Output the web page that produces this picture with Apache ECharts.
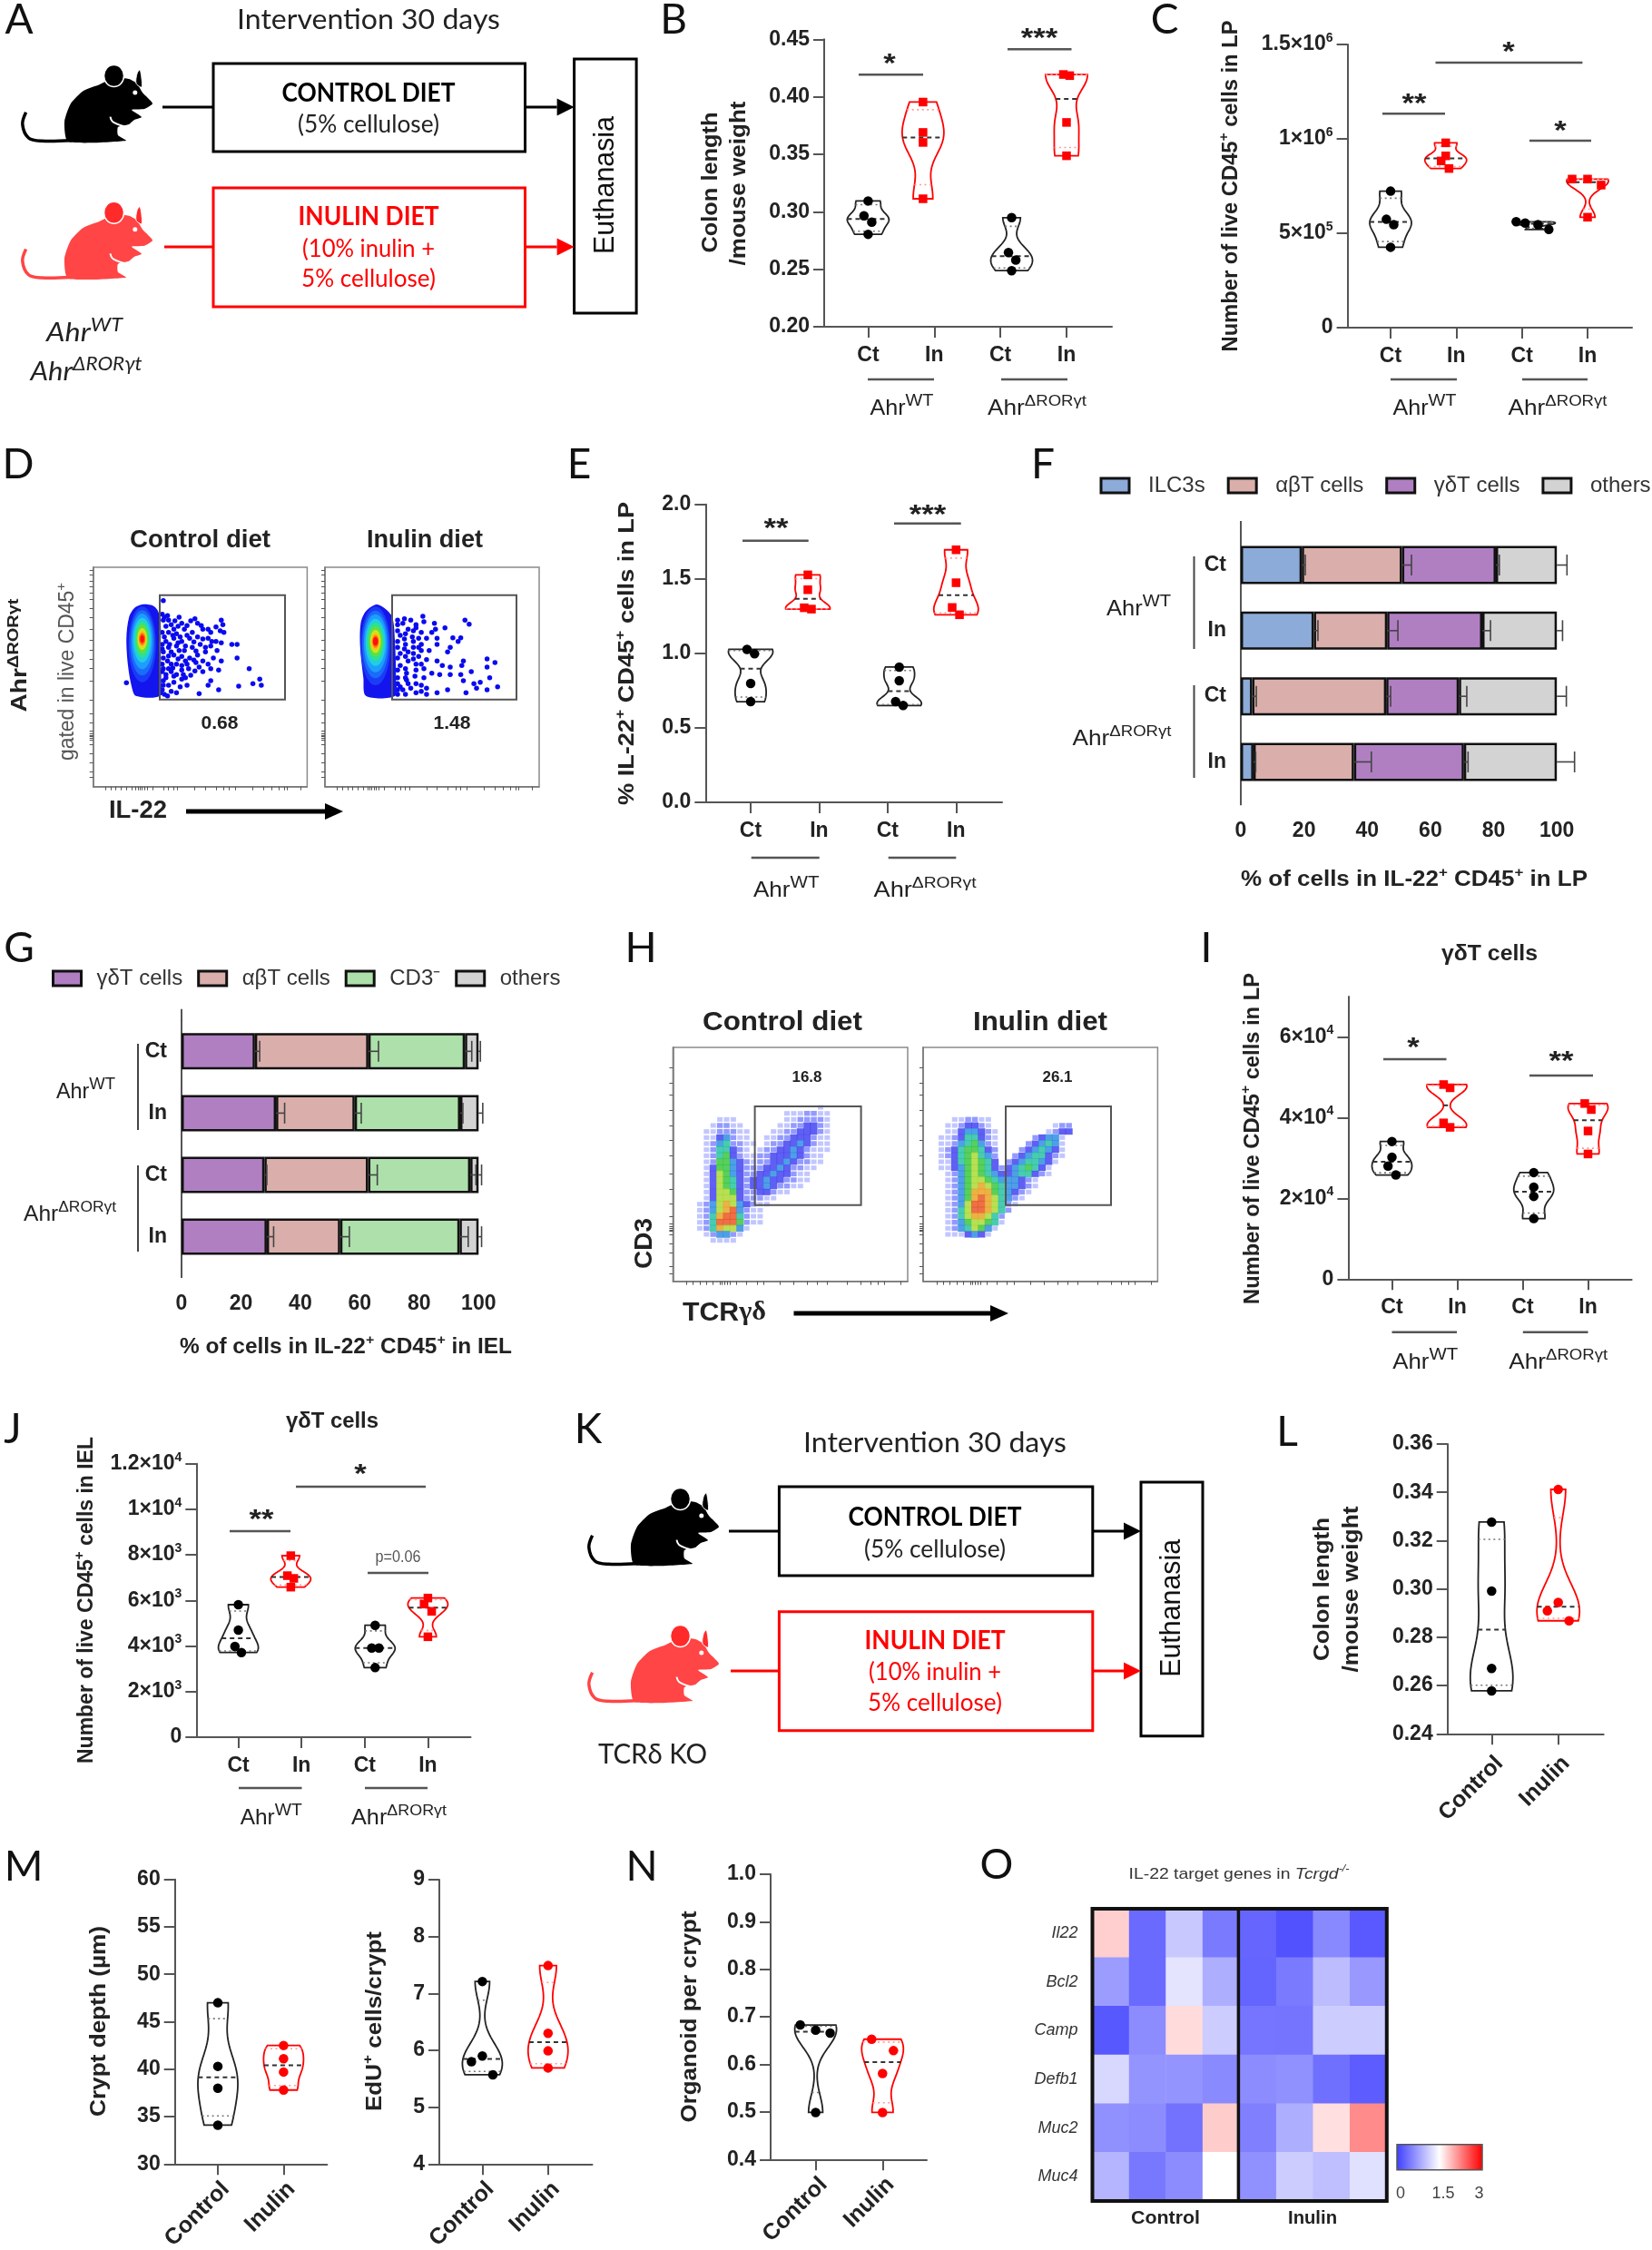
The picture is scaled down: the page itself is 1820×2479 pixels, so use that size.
<!DOCTYPE html>
<html><head><meta charset="utf-8">
<style>html,body{margin:0;padding:0;background:#fff}#c{width:1820px;height:2479px}</style>
<script src="https://cdn.jsdelivr.net/npm/echarts@6/dist/echarts.min.js"></script>
</head><body><div id="c"></div>
<script>
/* ---------- values ---------- */
const xNames4=['Ct','In','Ct','In'], xNames2=['Control','Inulin'];
// B colon length / mouse weight
const bValues=[[.3094,.2965,.291,.2804],[.3954,.369,.3603,.3113],[.2949,.2646,.258,.2488],[.4194,.4184,.3777,.3487]];
const bJitter=[[0,-.063,.055,0],[0,0,0,0],[0,-.048,.063,0],[-.048,.048,0,0]];
const bCenters=[1,1.83,3.17,4];
const bTicks=[.2,.25,.3,.35,.4,.45];
// C live CD45+ LP
const cValues=[[7.23e5,5.74e5,5.46e5,4.26e5],[9.79e5,9.1e5,8.83e5,8.43e5],[5.61e5,5.54e5,5.46e5,5.2e5],[7.87e5,7.87e5,7.55e5,5.85e5]];
const cJitter=[[0,-.064,.048,0],[0,0,-.07,.05],[-.277,-.14,.055,.22],[-.235,0,.207,0]];
const cCenters=[1,1.84,3.19,4];
const cTicks=[0,5e5,1e6,1.5e6];
// E % IL-22+
const eValues=[[1.027,.997,.798,.676],[1.527,1.427,1.306,1.297],[.908,.816,.676,.65],[1.695,1.474,1.308,1.259]];
const eJitter=[[-.053,.057,0,0],[0,0,-.053,.053],[0,0,-.053,.057],[0,0,-.057,.05]];
const eCenters=[1,1.835,3.17,4];
const eTicks=[0,.5,1,1.5,2];
// I gd T LP
const iValues=[[3.41e4,3.02e4,2.8e4,2.58e4],[4.82e4,4.74e4,3.87e4,3.76e4],[2.64e4,2.28e4,2.05e4,1.5e4],[4.35e4,4.2e4,3.67e4,3.1e4]];
const iJitter=[[0,0,-.06,.06],[-.05,.05,-.05,.05],[0,0,0,0],[-.05,.05,0,0]];
const iCenters=[1,1.84,3.17,4];
const iTicks=[0,2e4,4e4,6e4];
// J gd T IEL
const jValues=[[5814,4699,3982,3717],[7965,7088,6969,6584],[4912,3916,3916,3053],[6106,5841,5522,4407]];
const jJitter=[[0,0,-.054,.048],[0,-.054,.048,0],[0,-.054,.06,0],[0,-.06,.06,0]];
const jCenters=[1,1.83,3.165,4];
const jTicks=[0,2e3,4e3,6e3,8e3,1e4,1.2e4];
// L, M, N
const lValues=[[.3277,.2991,.2671,.2578],[.3412,.2944,.2909,.2868]];
const lJitter=[[0,0,0,0],[0,0,-.163,.163]];
const lTicks=[.24,.26,.28,.3,.32,.34,.36];
const m1Values=[[47,40.3,38,34.1],[42.5,41.1,39.7,37.8]];
const m1Jitter=[[0,0,0,0],[0,0,0,0]];
const m1Ticks=[30,35,40,45,50,55,60];
const m2Values=[[7.21,5.9,5.8,5.57],[7.49,6.3,5.99,5.69]];
const m2Jitter=[[0,0,-.166,.16],[0,0,0,0]];
const m2Ticks=[4,5,6,7,8,9];
const nValues=[[.683,.672,.666,.499],[.653,.629,.581,.499]];
const nJitter=[[-.23,0,.217,0],[-.163,.163,0,0]];
const nTicks=[.4,.5,.6,.7,.8,.9,1];
// F stacked bars (LP)
const fRows=['Ct','In','Ct','In'];
const fIlc3=[19.3,23.1,3.6,4], fAb=[31.7,23.2,42.4,31.8], fGd=[29.7,30.1,23,34.8], fOth=[19.3,23.6,31,29.4];
const fErrIlc3=[1.1,1.3,1.3,.7], fErrAb=[3,3.4,1.4,5.5], fErrGd=[1.1,2.6,2.5,1.3], fErrOth=[3.2,1.8,3,5.6];
// G stacked bars (IEL)
const gGd=[24.7,31.8,27.9,28.7], gAb=[38.2,26.5,34.9,24.7], gCd3=[32.5,35.5,34.4,40.2], gOth=[4.6,6.2,2.8,6.4];
const gErrGd=[1.6,2.9,.8,2.3], gErrAb=[3.4,2.2,3.1,3.1], gErrCd3=[2.3,.9,1.9,2.9], gErrOth=[.6,1.4,1,1];
const barTicks=[0,20,40,60,80,100];
// O heat map
const genes=['Il22','Bcl2','Camp','Defb1','Muc2','Muc4'];
const samples=['C1','C2','C3','C4','I1','I2','I3','I4'];
const hIl22=[1.78,.33,1.07,.455,.3,.14,.565,.2];
const hBcl2=[.72,.33,1.29,.86,.28,.455,.97,.69];
const hCamp=[.19,.6,1.71,1.1,.42,.41,1.1,1.1];
const hDefb1=[1.19,.66,.66,.58,.6,.63,.38,.22];
const hMuc2=[.63,.6,.39,1.8,.5,.86,1.69,2.18];
const hMuc4=[.91,.44,.6,1.5,.63,1.1,1,1.26];
// D flow cytometry: events outside the dense population, and its density contours (read by eye)
const d1Events=[[310,545],[312,600],[320,610],[325,625],[340,600],[345,620],[370,605],[375,620],[420,610],[423,625],[350,640],[365,650],[385,640],[400,650],[418,645],[425,650],[335,655],[320,650],[315,680],[330,670],[345,680],[360,670],[375,665],[395,670],[410,680],[420,685],[440,690],[450,690],[320,700],[335,695],[350,710],[365,700],[380,690],[400,695],[412,710],[330,725],[345,730],[360,735],[375,725],[390,715],[405,735],[420,745],[450,735],[318,745],[335,755],[355,755],[372,750],[310,770],[325,780],[345,775],[370,778],[385,780],[400,770],[415,775],[473,770],[315,800],[330,795],[352,800],[400,810],[395,825],[342,830],[320,825],[305,850],[378,853],[415,840],[453,828],[480,820],[493,805],[496,825],[240,817],[312,855],[345,805],[310,610],[315,630],[308,650],[312,665],[322,690],[310,715],[325,715],[310,735],[325,755],[315,790],[310,810],[330,640],[340,710],
[308,590],[318,595],[332,612],[338,630],[355,628],[362,612],[382,628],[395,640],[410,632],[328,660],[342,665],[355,660],[368,682],[385,672],[402,680],[308,690],[338,685],[352,695],[372,712],[390,700],[308,705],[320,728],[338,738],[352,745],[368,742],[385,745],[395,755],[308,755],[328,768],[345,760],[358,770],[378,765],[308,780],[320,770],[335,790],[348,790],[362,792],[310,825],[330,815],[308,840],[325,845],[318,860],[335,850],[355,825]];
const d2Events=[[803,597],[805,615],[825,620],[827,640],[845,635],[883,610],[891,623],[790,625],[775,640],[800,650],[820,650],[783,665],[810,670],[830,670],[860,668],[875,668],[870,680],[855,700],[850,715],[830,690],[800,690],[785,700],[815,710],[795,730],[775,745],[810,740],[830,745],[840,760],[855,765],[880,745],[877,760],[925,738],[940,750],[925,765],[790,775],[820,785],[835,790],[855,790],[875,790],[895,780],[880,810],[900,820],[930,800],[912,815],[945,830],[925,840],[905,835],[885,850],[850,840],[830,850],[810,835],[790,820],[770,800],[765,840],[755,855],[790,850],[810,855],[770,770],[760,720],[770,690],[760,660],[755,610],[765,620],[785,645],[795,670],[775,715],[790,755],[760,760],[805,770],[775,820],[755,800],[760,830],[780,835],
[755,625],[768,605],[780,610],[790,635],[755,645],[770,655],[785,680],[755,680],[768,672],[795,700],[755,700],[768,705],[785,720],[800,710],[755,735],[770,730],[785,738],[800,755],[755,775],[772,785],[788,795],[805,800],[755,820],[772,808],[800,825],[770,855],[800,845],[755,840]];
const d1Outline=[[270,558],[290,562],[300,580],[305,620],[305,700],[306,800],[303,860],[258,860],[250,830],[243,760],[240,670],[245,600],[255,570]];
const d2Outline=[[715,558],[730,570],[745,600],[750,680],[752,800],[750,860],[695,860],[690,800],[684,700],[685,620],[695,580]];
const d1Contours=[[270,690,26,125],[270,685,23,108],[270,680,20,92],[270,676,17,74],[270,674,14,60],[270,672,11,48],[270,672,9,36],[270,672,7,27],[270,672,6,20],[270,672,4,13]];
const d2Contours=[[713,695,28,130],[713,690,25,112],[713,686,22,96],[713,683,19,78],[713,681,16,63],[713,680,13,50],[713,680,10,38],[713,680,8,29],[713,680,6,21],[713,680,5,14]];
const contourColors=['#1a3cf5','#1a6cfa','#1e9dff','#20cfe0','#2fe090','#60e040','#c8e820','#ffc010','#ff7010','#ff1010'];
// H flow cytometry: density level per cell, read by eye (. = none, 1 sparse .. 9 densest)
const h1Density=[
"..................1.",".............1112211","...111.......1122221","..12211.....11223321",".1122211...112233321",".1134211..1122333211",
".12452211.1223343211",".1255321.12233432111",".125632112233343211.",".126643212233432211.",".13664322233432211..",".1376432233433211...",
".1376532334332211...",".1376532334322 1....".replace(' ','1'),".137763223321 ......".replace(' ','1'),".1377732221 ........".replace(' ','1'),"12478743211.........","1247894211..........",
"12589952 1..........".replace(' ','1'),"12599962 1..........".replace(' ','1'),"12587741............",".124421.............","..1111.............."];
const h2Density=[
"....................","....................","..112211............",".1123321.........122.",".11344321.......1233.","112355321.....23441.",
"112456421....234541.","123566532...2345431.","123567542..23455321.","113567653.23455431..","11346765323456531...",".1246765433455321...",
".12467765444321.....",".12467876544321.....",".1246888654321......",".124689875421.......",".12479987521........",".1257998752.........",
".125788752..........",".124677651..........",".12457641...........",".1113431............"];
const densityColors=[null,'#b4baff','#7a84ff','#3c3cf0','#2a8ae0','#22c0a0','#35c43a','#a8d830','#e8a020','#e85020'];
/* ---------- helpers ---------- */
const ARIAL="'Liberation Sans'", LATO="Lato";
const AX='#555', RED='#ff0000';
const mctx=document.createElement('canvas').getContext('2d');
const G=[], grids=[], xAxes=[], yAxes=[], series=[];
function fontOf(p){return `${p.style||'normal'} ${p.weight||'normal'} ${p.size}px ${p.font}`;}
function T(o){
  const parts=o.parts||[{t:o.t}];
  const base={size:o.size||22,weight:o.weight,style:o.style,font:o.font||ARIAL,color:o.color||'#222'};
  const ps=parts.map(p=>Object.assign({},base,p));
  let W=0; ps.forEach(p=>{mctx.font=fontOf(p);p.w=mctx.measureText(p.t).width;W+=p.w;});
  const s=o.w?o.w/W:1; let cx=-W/2; const kids=[];
  ps.forEach(p=>{kids.push({type:'text',z:60,style:{text:p.t,x:cx,y:p.dy||0,font:fontOf(p),fill:p.color,textAlign:'left',align:'left',textVerticalAlign:'middle',verticalAlign:'middle'}});cx+=p.w;});
  G.push({type:'group',x:o.x,y:o.y,rotation:o.rot||0,scaleX:s,z:60,children:kids});
}
const V=Math.PI/2;
function line(x1,y1,x2,y2,c,lw){G.push({type:'line',z:55,shape:{x1,y1,x2,y2},style:{stroke:c||AX,lineWidth:lw||2.5}});}
function rect(x,y,w,h,c,lw){G.push({type:'rect',z:55,shape:{x,y,width:w,height:h},style:{fill:'none',stroke:c,lineWidth:lw}});}
function arrow(x1,x2,y,c,lw,hl,hh){line(x1,y,x2-hl,y,c,lw);G.push({type:'polygon',z:55,shape:{points:[[x2-hl,y-hh],[x2,y],[x2-hl,y+hh]]},style:{fill:c}});}
function star(n,x,y){T({t:'*'.repeat(n),x,y:y+6,size:30,weight:'bold',w:n*13.5,color:'#222'});}
function sig(x1,x2,y,n,sx,sy){line(x1,y,x2,y);if(n)star(n,sx,sy);}
function letter(t,x,y){T({t,x,y,size:46,font:LATO,color:'#111'});}
function ahrWT(x,y,w){T({parts:[{t:'Ahr'},{t:'WT',size:19,dy:-8}],x,y:y+3,size:24,w:w||70,color:'#222'});}
function ahrD(x,y,w){T({parts:[{t:'Ahr'},{t:'ΔRORγt',size:17,dy:-8}],x,y:y+3,size:24,w:w||109,color:'#222'});}
const yLabel=(t,x,y,w)=>T({parts:t,x,y,w,rot:V,size:23,weight:'bold',color:'#222'});
const CD45=[{t:'Number of live CD45'},{t:'+',size:15,dy:-8}];
function sciFmt(v){if(v===0)return'{a|0}';const e=Math.floor(Math.log10(v)+1e-9);const m=+(v/Math.pow(10,e)).toFixed(2);return `{a|${m}×10}{s|${e}}`;}
const sciRich={a:{fontFamily:ARIAL,fontWeight:'bold',fontSize:23,color:'#222'},s:{fontFamily:ARIAL,fontWeight:'bold',fontSize:14,color:'#222',padding:[0,0,14,0]}};
function kdeShape(vals){
  const lo=Math.min(...vals),hi=Math.max(...vals),h=.2*(hi-lo);
  const d=y=>vals.reduce((s,v)=>s+Math.exp(-.5*Math.pow((y-v)/h,2)),0);
  const ys=[];for(let i=0;i<=40;i++)ys.push(lo+(hi-lo)*i/40);
  const max=Math.max(...ys.map(d));
  return {ys,wd:y=>d(y)/max};
}
function quart(vals){const s=[...vals].sort((a,b)=>a-b);return[s[0]+.25*(s[1]-s[0]),(s[1]+s[2])/2,s[2]+.75*(s[3]-s[2])];}
function violinPanel(c){
  const n=c.names.length,i=grids.length,u=(c.xt[n-1]-c.xt[0])/(n-1);
  grids.push({left:c.L,top:c.T,width:c.R-c.L,height:c.B-c.T});
  const xv=c.names.map((_,k)=>k+1);
  const lab={customValues:xv,formatter:v=>c.names[Math.round(v)-1],fontFamily:ARIAL,fontWeight:'bold',fontSize:c.xSize||23,color:'#222',margin:c.xMargin||20,rotate:c.xRot||0,hideOverlap:false};
  if(c.xRot)lab.verticalAlign='top';
  xAxes.push({gridIndex:i,type:'value',min:1-(c.xt[0]-c.L)/u,max:n+(c.R-c.xt[n-1])/u,splitLine:{show:false},
    axisLine:{onZero:false,lineStyle:{color:AX,width:2}},axisTick:{customValues:xv,length:12,lineStyle:{color:AX,width:2}},
    axisLabel:lab});
  yAxes.push({gridIndex:i,type:'value',min:c.yMin,max:c.yMax,splitLine:{show:false},
    axisLine:{onZero:false,lineStyle:{color:AX,width:2}},axisTick:{customValues:c.yTicks,length:12,lineStyle:{color:AX,width:2}},
    axisLabel:{customValues:c.yTicks,formatter:c.yFmt,fontFamily:ARIAL,fontWeight:'bold',fontSize:23,color:'#222',margin:16,rich:sciRich}});
  const Hw=c.hw||23,centers=c.centers||xv;
  series.push({type:'custom',xAxisIndex:i,yAxisIndex:i,silent:true,clip:false,z:3,
    data:centers.map((x,j)=>[x,quart(c.values[j])[1]]),encode:{x:0,y:1},
    renderItem(p,api){
      const j=p.dataIndex,vals=c.values[j],col=j%2?RED:'#222',k=kdeShape(vals),x=centers[j];
      const cx=api.coord([x,vals[0]])[0];
      const L=[],Rr=[];k.ys.forEach(y=>{const py=api.coord([x,y])[1],w=k.wd(y)*Hw;L.push([cx-w,py]);Rr.unshift([cx+w,py]);});
      const kids=[{type:'polygon',shape:{points:L.concat(Rr)},style:{fill:'none',stroke:col,lineWidth:1.8}}];
      const [q1,m,q3]=quart(vals);
      [q1,q3].forEach(q=>{const py=api.coord([x,q])[1],w=k.wd(q)*Hw;kids.push({type:'line',shape:{x1:cx-w,y1:py,x2:cx+w,y2:py},style:{stroke:j%2?'#ff9a9a':'#777',lineWidth:1.6,lineDash:[2,3.5]}});});
      const py=api.coord([x,m])[1],w=k.wd(m)*Hw;
      kids.push({type:'line',shape:{x1:cx-w,y1:py,x2:cx+w,y2:py},style:{stroke:'#333',lineWidth:2,lineDash:[5,4]}});
      return {type:'group',children:kids};
    }});
  [0,1].forEach(odd=>{
    const d=[];c.values.forEach((vs,j)=>{if(j%2===odd)vs.forEach((v,q)=>d.push([centers[j]+c.jitter[j][q],v]));});
    series.push({type:'scatter',xAxisIndex:i,yAxisIndex:i,silent:true,z:4,clip:false,data:d,symbol:odd&&c.square?'rect':'circle',symbolSize:odd&&c.square?9.5:10.5,itemStyle:{color:odd?RED:'#000',opacity:1}});
  });
}
const f2=v=>v.toFixed(2), f1=v=>v.toFixed(1), f0=v=>String(v);
const ahrUnder=(xt,yu,ya,w1,w2)=>{line(xt[0],yu,xt[1],yu);line(xt[2],yu,xt[3],yu);ahrWT((xt[0]+xt[1])/2+1,ya,w1);ahrD((xt[2]+xt[3])/2+3,ya,w2);};

function stackPanel(c){
  const i=grids.length;
  grids.push({left:c.L,top:c.T,width:c.R-c.L,height:c.B-c.T});
  xAxes.push({gridIndex:i,type:'value',min:0,max:110,offset:c.off,splitLine:{show:false},
    axisLine:{onZero:false,lineStyle:{color:AX,width:2}},axisTick:{customValues:barTicks,length:11,lineStyle:{color:AX,width:2}},
    axisLabel:{customValues:barTicks,fontFamily:ARIAL,fontWeight:'bold',fontSize:23,color:'#222',margin:17}});
  yAxes.push({gridIndex:i,type:'category',inverse:true,data:fRows,
    axisLine:{onZero:false,lineStyle:{color:AX,width:2}},axisTick:{alignWithLabel:true,length:12,lineStyle:{color:AX,width:2}},
    axisLabel:{fontFamily:ARIAL,fontWeight:'bold',fontSize:23,color:'#222',margin:16}});
  c.segs.forEach(s=>series.push({type:'bar',name:s.name,xAxisIndex:i,yAxisIndex:i,stack:'s'+i,data:s.data,barWidth:c.barW,silent:true,z:2,
    itemStyle:{color:s.color,borderColor:'#111',borderWidth:2.5}}));
  const cum=[0,0,0,0],err=[];
  c.segs.forEach(s=>{s.data.forEach((v,r)=>{cum[r]+=v;err.push([cum[r],r,s.err[r]]);});});
  series.push({type:'custom',xAxisIndex:i,yAxisIndex:i,silent:true,clip:false,z:5,data:err,encode:{x:0,y:1},
    renderItem(p,api){
      const a=api.coord([api.value(0),api.value(1)]),b=api.coord([api.value(0)+api.value(2),api.value(1)]);
      const st={stroke:'#444',lineWidth:1.6};
      return {type:'group',children:[{type:'line',shape:{x1:a[0],y1:a[1],x2:b[0],y2:b[1]},style:st},{type:'line',shape:{x1:b[0],y1:b[1]-11.5,x2:b[0],y2:b[1]+11.5},style:st}]};
    }});
}
function flowAxes(L,R,T_,B,xr,yr,xt,yt){
  const i=grids.length;
  grids.push({left:L,top:T_,width:R-L,height:B-T_,show:true,borderColor:'#8a8a8a',borderWidth:1.5,backgroundColor:'#fff'});
  const ax={onZero:false,lineStyle:{color:'#777',width:1.5}},tk=(v)=>({customValues:v,length:4,lineStyle:{color:'#555',width:1}});
  xAxes.push({gridIndex:i,type:'value',min:xr[0],max:xr[1],splitLine:{show:false},axisLine:ax,axisTick:tk(xt),axisLabel:{show:false}});
  yAxes.push({gridIndex:i,type:'value',inverse:true,min:yr[0],max:yr[1],splitLine:{show:false},axisLine:ax,axisTick:tk(yt),axisLabel:{show:false}});
  return i;
}
function dPlot(i,outline,contours,events){
  series.push({type:'scatter',xAxisIndex:i,yAxisIndex:i,silent:true,z:2,data:events,symbolSize:5.5,itemStyle:{color:'#0a0af0',opacity:1}});
  series.push({type:'custom',xAxisIndex:i,yAxisIndex:i,silent:true,z:3,data:[outline[0]],encode:{x:0,y:1},
    renderItem(p,api){return{type:'polygon',shape:{points:outline.map(q=>api.coord(q)),smooth:.3},style:{fill:'#1414ee'}};}});
  series.push({type:'custom',xAxisIndex:i,yAxisIndex:i,silent:true,z:4,data:contours,encode:{x:0,y:1},
    renderItem(p,api){const c=api.coord([api.value(0),api.value(1)]),e=api.coord([api.value(0)+api.value(2),api.value(1)+api.value(3)]);
      const H0=api.coord([0,860])[1];
      const cy=c[1],ry=Math.abs(e[1]-c[1]);
      return{type:'ellipse',shape:{cx:c[0],cy:cy,rx:Math.abs(e[0]-c[0]),ry:Math.min(ry,H0-cy)},style:{fill:contourColors[p.dataIndex]}};}});
}
function hPlot(i,rows,x0,y0){
  const d=[];rows.forEach((r,j)=>[...r].forEach((ch,k)=>{if(ch!=='.')d.push([x0+10*k,y0+20*j,+ch]);}));
  series.push({type:'scatter',xAxisIndex:i,yAxisIndex:i,silent:true,z:3,data:d,symbol:'rect',
    symbolSize:v=>v[2]===1?[6,5]:v[2]===2?[6.5,5.5]:v[2]===3?[8,7]:[8,7.5],itemStyle:{opacity:.82,color:p=>densityColors[p.value[2]]}});
}
function mouse(ox,oy,body,ear){
  const g={type:'group',x:ox,y:oy,z:55,children:[
    {type:'polyline',shape:{points:[[4.6,51.7],[.8,65],[7.5,80],[22,83.3],[54,82.7]],smooth:.35},style:{stroke:body,lineWidth:3.5,fill:'none'}},
    {type:'polygon',shape:{smooth:.2,points:[[51,84],[47,62],[54,42],[68,28],[86,21],[100,14],[118,15],[127,20],[133,30],[144,42],[135,48],[121,49],[132,57],[124,60],[118,65],[106,68],[106,77],[115,83]]},style:{fill:body}},
    {type:'ellipse',shape:{cx:101.5,cy:11.5,rx:11,ry:12},style:{fill:ear,stroke:'#fff',lineWidth:1.5}},
    {type:'polygon',shape:{points:[[126,20],[127,9],[130,5],[132,14],[132,24]],smooth:.3},style:{fill:ear,stroke:'#fff',lineWidth:1}},
    {type:'circle',shape:{cx:124.8,cy:30,r:2.5},style:{fill:'#fff'}},
    {type:'polyline',shape:{points:[[97.5,56.7],[100,62],[112,67]],smooth:.4},style:{stroke:'#fff',lineWidth:2,fill:'none'}}
  ]};
  G.push(g);
}
function schematic(o){
  T({t:'Intervention 30 days',x:o.cx,y:o.titleY,size:30,font:LATO,w:290,color:'#222'});
  mouse(o.mx,o.m1y,'#000','#000'); mouse(o.mx,o.m2y,'#ff4545','#ff2a2a');
  rect(o.bx1,o.b1.y,o.bw,o.b1.h,'#000',3); rect(o.bx1,o.b2.y,o.bw,o.b2.h,RED,3);
  rect(o.ex,o.ey,o.ew,o.eh,'#000',3);
  line(o.mx+155,o.ay1,o.bx1,o.ay1,'#000',3); arrow(o.bx1+o.bw,o.ex,o.ay1,'#000',3,19,9.5);
  line(o.mx+157,o.ay2,o.bx1,o.ay2,RED,3); arrow(o.bx1+o.bw,o.ex,o.ay2,RED,3,19,9.5);
  T({t:'CONTROL DIET',x:o.cx,y:o.t[0],size:28,font:LATO,weight:'bold',w:191,color:'#000'});
  T({t:'(5% cellulose)',x:o.cx,y:o.t[1],size:27,font:LATO,w:156,color:'#222'});
  T({t:'INULIN DIET',x:o.cx,y:o.t[2],size:28,font:LATO,weight:'bold',w:155,color:RED});
  T({t:'(10% inulin +',x:o.cx,y:o.t[3],size:27,font:LATO,w:146,color:RED});
  T({t:'5% cellulose)',x:o.cx,y:o.t[4],size:27,font:LATO,w:148,color:RED});
  T({t:'Euthanasia',x:o.ex+o.ew/2,y:o.ey+o.eh/2-1,size:32,w:152,rot:V,color:'#111'});
}
/* ---------- panels ---------- */
letter('A',21,22);letter('B',742,22);letter('C',1283,22);letter('D',20,512);letter('E',638,512);letter('F',1149,512);
letter('G',21,1045);letter('H',706,1045);letter('I',1329,1045);letter('J',14,1575);letter('K',648,1575);letter('L',1418,1578);
letter('M',26,2057);letter('N',707,2057);letter('O',1098,2055);
schematic({cx:406,titleY:22,mx:24,m1y:72,m2y:222.7,bx1:235,bw:343.5,b1:{y:70,h:97},b2:{y:207,h:131},ex:632.6,ey:65,ew:68.5,eh:280,ay1:118,ay2:272,t:[103,137,239,274,307]});
T({parts:[{t:'Ahr'},{t:'WT',size:21,dy:-9}],x:93,y:367,size:29,font:LATO,style:'italic',w:84});
T({parts:[{t:'Ahr'},{t:'ΔRORγt',size:21,dy:-9}],x:95,y:410,size:29,font:LATO,style:'italic',w:123});
schematic({cx:1030,titleY:1590,mx:648,m1y:1640,m2y:1791,bx1:858.4,bw:345.4,b1:{y:1638,h:98},b2:{y:1775.7,h:131},ex:1257,ey:1633,ew:68,eh:279.7,ay1:1687,ay2:1841,t:[1672,1707.7,1807.7,1842.7,1876]});
T({t:'TCRδ KO',x:719,y:1933,size:30,font:LATO,w:120});

// B
violinPanel({L:908,R:1225,T:43.3,B:360,yMin:.2,yMax:.45,yTicks:bTicks,yFmt:f2,names:xNames4,xt:[956.4,1029,1102,1175],centers:bCenters,values:bValues,jitter:bJitter,square:true});
yLabel([{t:'Colon length'}],783.5,201,155);yLabel([{t:'/mouse weight'}],815,202,181);
sig(946,1017,82.3,1,980,65);sig(1110,1180.5,54.3,3,1145,37);ahrUnder([956,1029,1103,1176],418,447);
// C
violinPanel({L:1484.6,R:1798,T:49,B:361,yMin:0,yMax:1.5e6,yTicks:cTicks,yFmt:sciFmt,names:xNames4,xt:[1532,1604.7,1676.7,1749],centers:cCenters,values:cValues,jitter:cJitter,square:true});
yLabel(CD45.concat([{t:' cells in LP'}]),1357,205,365);
sig(1581.5,1743.4,69,1,1662,52);sig(1523,1592,125.3,2,1558,109);sig(1685,1753,155,1,1719,139);ahrUnder([1532,1605,1677,1749],418,447);
// D
const dxTicks=[200,210,220,230,240,250,258,262,266,270,274,280,290,310,320,330,337,370,390,410,425,435,447,480,500,515,530,540,545,570];
const dyTicks=[445,460,480,500,520,540,570,600,640,675,710,740,770,810,875,920,950,975,985,990,995,1000,1005,1020,1050,1080,1110,1130];
const d1=flowAxes(102.7,338.4,625,866.7,[177,583],[435,1160],dxTicks,dyTicks);
const d2=flowAxes(358,594,625,866.7,[617,1024],[435,1160],dxTicks.map(v=>v+440),dyTicks);
dPlot(d1,d1Outline,d1Contours,d1Events);dPlot(d2,d2Outline,d2Contours,d2Events);
rect(176,655.7,138,115,'#555',2);rect(432,655.7,137,115,'#555',2);
T({t:'Control diet',x:220.5,y:595.7,size:27,weight:'bold',w:155});T({t:'Inulin diet',x:468,y:595.7,size:27,weight:'bold',w:128});
T({t:'0.68',x:242,y:797.7,size:21,weight:'bold',w:41});T({t:'1.48',x:498,y:797.7,size:21,weight:'bold',w:41});
T({t:'IL-22',x:152,y:894,size:27,weight:'bold',w:64});arrow(205,378,894,'#000',5,20,9);
T({parts:[{t:'Ahr'},{t:'ΔRORγt',size:17,dy:-7}],x:22,y:722,size:24,weight:'bold',w:125,rot:V});
T({parts:[{t:'gated in live CD45'},{t:'+',size:15,dy:-7}],x:75,y:740,size:23,w:196,rot:V,color:'#555'});
// E
violinPanel({L:777.3,R:1104,T:555.7,B:884,yMin:0,yMax:2,yTicks:eTicks,yFmt:f1,names:xNames4,xt:[827,902.3,978,1053.3],centers:eCenters,values:eValues,jitter:eJitter,square:true,hw:24.5});
yLabel([{t:'% IL-22'},{t:'+',size:15,dy:-8},{t:' CD45'},{t:'+',size:15,dy:-8},{t:' cells in LP'}],692,720,334);
sig(818,890.7,595.7,2,855,576.7);sig(985,1058.7,576.7,3,1022,561.7);ahrUnder([827.7,902.7,978.7,1053.3],945,978,72.6,113);
// F
stackPanel({L:1367,R:1750,T:586.4,B:875.6,off:11.7,barW:42,segs:[
 {name:'ILC3s',data:fIlc3,err:fErrIlc3,color:'#8cabd8'},{name:'αβT cells',data:fAb,err:fErrAb,color:'#d9aeab'},
 {name:'γδT cells',data:fGd,err:fErrGd,color:'#b07fc2'},{name:'others',data:fOth,err:fErrOth,color:'#d3d3d3'}]});
line(1367,574,1367,586.4,AX,2);line(1367,875.6,1367,887.3,AX,2);
line(1315.5,613,1315.5,715,'#444',2);line(1315.5,755,1315.5,857,'#444',2);
ahrWT(1254.5,668,71);ahrD(1236,811.7,109);
T({parts:[{t:'% of cells in IL-22'},{t:'+',size:15,dy:-8},{t:' CD45'},{t:'+',size:15,dy:-8},{t:' in LP'}],x:1558,y:970,size:23,weight:'bold',w:382});
// G
stackPanel({L:200,R:560,T:1124.25,B:1396.65,off:11.35,barW:40,segs:[
 {name:'γδT cells',data:gGd,err:gErrGd,color:'#b07fc2'},{name:'αβT cells',data:gAb,err:gErrAb,color:'#d9aeab'},
 {name:'CD3⁻',data:gCd3,err:gErrCd3,color:'#aee0ab'},{name:'others',data:gOth,err:gErrOth,color:'#d3d3d3'}]});
line(200,1111.7,200,1124.25,AX,2);line(200,1396.65,200,1408,AX,2);
line(152,1150,152,1245,'#444',2);line(152,1284,152,1379,'#444',2);
ahrWT(94.5,1200,65);ahrD(77,1335,102);
T({parts:[{t:'% of cells in IL-22'},{t:'+',size:15,dy:-8},{t:' CD45'},{t:'+',size:15,dy:-8},{t:' in IEL'}],x:381,y:1485,size:23,weight:'bold',w:366});
// H
const hxTicks=[130,140,150,160,170,180,183,187,191,195,205,220,235,245,270,290,310,325,340,370,390,405,415,425,450];
const hyTicks=[410,460,500,550,600,650,700,760,810,860,900,925,935,940,945,950,960,990,1020,1065,1090];
const h1=flowAxes(741.4,1000,1154,1411.7,[110,460],[342,1115],hxTicks,hyTicks);
const h2=flowAxes(1017,1275.4,1154,1411.7,[483,832],[342,1115],hxTicks.map(v=>v+373),hyTicks);
hPlot(h1,h1Density,150,540);hPlot(h2,h2Density,510,540);
rect(831.6,1219,117,108.7,'#555',2);rect(1108,1219,116,108.7,'#555',2);
T({t:'Control diet',x:862,y:1127,size:30,weight:'bold',w:176});T({t:'Inulin diet',x:1146,y:1127,size:30,weight:'bold',w:148});
T({t:'16.8',x:889,y:1187,size:17,weight:'bold',w:33});T({t:'26.1',x:1165,y:1187,size:17,weight:'bold',w:33});
T({t:'CD3',x:710,y:1370,size:28,weight:'bold',rot:V,w:56});
T({parts:[{t:'TCR'},{t:'γδ',font:"'Liberation Serif'"}],x:798,y:1447,size:29,weight:'bold',w:92});arrow(874.5,1111,1447,'#000',5,20,9);
// I
violinPanel({L:1485.4,R:1797.6,T:1098,B:1409.3,yMin:0,yMax:7e4,yTicks:iTicks,yFmt:sciFmt,names:xNames4,xt:[1533.5,1605,1677.8,1749.5],centers:iCenters,values:iValues,jitter:iJitter,square:true,hw:22});
yLabel(CD45.concat([{t:' cells in LP'}]),1381,1254.5,365);
T({t:'γδT cells',x:1641,y:1052,size:23,weight:'bold',w:106});
sig(1524,1593.5,1167,1,1557,1149);sig(1685,1755,1185,2,1720,1164);ahrUnder([1533.5,1605,1677.8,1749.5],1467.7,1498,72,109);
// J
violinPanel({L:216.3,R:518.5,T:1612.7,B:1914,yMin:0,yMax:1.2e4,yTicks:jTicks,yFmt:sciFmt,names:xNames4,xt:[262.6,332.5,402,471.4],centers:jCenters,values:jValues,jitter:jJitter,square:true,hw:22});
yLabel([{t:'Number of live CD45'},{t:'+',size:15,dy:-8},{t:' cells in IEL'}],96,1763,360);
T({t:'γδT cells',x:366,y:1566.7,size:23,weight:'bold',w:102});
sig(253,320,1687,2,288,1669);sig(326,469,1638,1,397,1619);sig(405,472,1733,0);
T({t:'p=0.06',x:438.6,y:1715.7,size:18,w:50,color:'#555'});
ahrUnder([263,332.5,402,471],1970,2000,68,105);
// L
violinPanel({L:1594.7,R:1766.7,T:1591,B:1910.3,yMin:.24,yMax:.36,yTicks:lTicks,yFmt:f2,names:xNames2,xt:[1643.3,1716.7],values:lValues,jitter:lJitter,hw:23.5,xRot:45,xSize:25,xMargin:20});
yLabel([{t:'Colon length'}],1458,1751,158);yLabel([{t:'/mouse weight'}],1490,1751,183);
// M
violinPanel({L:192.7,R:360.4,T:2070.7,B:2384.3,yMin:30,yMax:60,yTicks:m1Ticks,yFmt:f0,names:xNames2,xt:[240,312.4],values:m1Values,jitter:m1Jitter,hw:22,xRot:45,xSize:25,xMargin:15});
yLabel([{t:'Crypt depth (µm)'}],109.5,2227,210);
violinPanel({L:484,R:652.5,T:2071,B:2384.3,yMin:4,yMax:9,yTicks:m2Ticks,yFmt:f0,names:xNames2,xt:[531.4,603.8],values:m2Values,jitter:m2Jitter,hw:22,xRot:45,xSize:25,xMargin:15});
yLabel([{t:'EdU'},{t:'+',size:15,dy:-8},{t:' cells/crypt'}],413.8,2227,198);
// N
violinPanel({L:849,R:1021,T:2065,B:2379.3,yMin:.4,yMax:1,yTicks:nTicks,yFmt:f1,names:xNames2,xt:[898.6,972.3],values:nValues,jitter:nJitter,hw:23,xRot:45,xSize:25,xMargin:15});
yLabel([{t:'Organoid per crypt'}],760.6,2222,233);
// O
const oi=grids.length;
grids.push({left:1203.5,top:2103,width:324.3,height:322});
xAxes.push({gridIndex:oi,type:'category',data:samples,show:false});
yAxes.push({gridIndex:oi,type:'category',inverse:true,data:genes,axisLine:{show:false},axisTick:{show:false},
  axisLabel:{fontFamily:ARIAL,fontStyle:'italic',fontSize:18,color:'#333',margin:16}});
const hmRows=[hIl22,hBcl2,hCamp,hDefb1,hMuc2,hMuc4],hmData=[];
hmRows.forEach((r,y)=>r.forEach((v,x)=>hmData.push([x,y,v])));
const hmIndex=series.length;
series.push({type:'heatmap',xAxisIndex:oi,yAxisIndex:oi,data:hmData,silent:true});
rect(1203.5,2103,324.3,322,'#111',4);line(1364.4,2103,1364.4,2425,'#111',3.5);
T({parts:[{t:'IL-22 target genes in '},{t:'Tcrgd',style:'italic'},{t:'-/-',style:'italic',size:11,dy:-6}],x:1365,y:2065,size:17,w:243,color:'#333'});
T({t:'Control',x:1284,y:2444,size:21,weight:'bold',w:76});T({t:'Inulin',x:1446,y:2444,size:21,weight:'bold',w:54});
rect(1539,2362.7,94,28,'#555',1.5);
T({t:'0',x:1543,y:2417,size:18,color:'#444'});T({t:'1.5',x:1590,y:2417,size:18,color:'#444'});T({t:'3',x:1629.6,y:2417,size:18,color:'#444'});

grids.forEach(g=>{g.outerBoundsMode='none';g.containLabel=false;});
const legendBase={selectedMode:false,padding:0,icon:'rect',itemWidth:31,itemHeight:16,itemStyle:{borderColor:'#111',borderWidth:3},orient:'horizontal'};
const chart=echarts.init(document.getElementById('c'),null,{renderer:'canvas',width:1820,height:2479});
chart.setOption({
  animation:false,backgroundColor:'#fff',grid:grids,xAxis:xAxes,yAxis:yAxes,series,
  legend:[
    Object.assign({},legendBase,{left:1211.5,top:523,width:640,itemGap:24,data:['ILC3s','αβT cells','γδT cells','others'],textStyle:{fontFamily:ARIAL,fontSize:24,color:'#333',padding:[0,0,0,16]}}),
    Object.assign({},legendBase,{left:57,top:1066,width:640,itemGap:16,data:['γδT cells','αβT cells','CD3⁻','others'],textStyle:{fontFamily:ARIAL,fontSize:24,color:'#333',padding:[0,0,0,12]}})
  ],
  visualMap:{type:'continuous',seriesIndex:hmIndex,min:0,max:3,calculable:false,orient:'horizontal',left:1539,top:2362.7,itemWidth:28,itemHeight:94,padding:0,text:null,showLabel:false,hoverLink:false,inRange:{color:['#4040ff','#ffffff','#ff0000']}},
  graphic:{elements:G}
});
</script></body></html>
